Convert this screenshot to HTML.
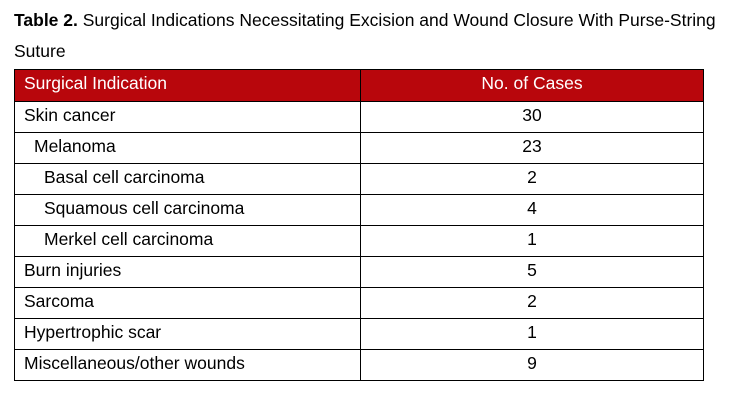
<!DOCTYPE html>
<html><head><style>
body{margin:0;background:#fff;width:736px;height:400px;position:relative;font-family:"Liberation Sans",Arial,sans-serif;color:#000;}
.t{position:absolute;left:14px;top:5px;font-size:17.5px;line-height:31px;width:730px;white-space:nowrap;}
table{position:absolute;left:14px;top:69px;border-collapse:collapse;width:689px;font-size:17.5px;table-layout:fixed;}
td,th{border:1.3px solid #000;height:26px;padding:0 0 4px 0;vertical-align:middle;}
th{background:#b8060c;color:#fff;font-weight:normal;height:27px;}
td:first-child,th:first-child{text-align:left;padding-left:9px;}
td:last-child,th:last-child{text-align:center;}
.i1{padding-left:19px!important}.i2{padding-left:29px!important}
</style></head><body>
<div class="t"><b>Table 2.</b> Surgical Indications Necessitating Excision and Wound Closure With Purse-String<br>Suture</div>
<table>
<colgroup><col style="width:346px"><col style="width:343px"></colgroup>
<tr><th>Surgical Indication</th><th>No. of Cases</th></tr>
<tr><td>Skin cancer</td><td>30</td></tr>
<tr><td class="i1">Melanoma</td><td>23</td></tr>
<tr><td class="i2">Basal cell carcinoma</td><td>2</td></tr>
<tr><td class="i2">Squamous cell carcinoma</td><td>4</td></tr>
<tr><td class="i2">Merkel cell carcinoma</td><td>1</td></tr>
<tr><td>Burn injuries</td><td>5</td></tr>
<tr><td>Sarcoma</td><td>2</td></tr>
<tr><td>Hypertrophic scar</td><td>1</td></tr>
<tr><td>Miscellaneous/other wounds</td><td>9</td></tr>
</table>
</body></html>
